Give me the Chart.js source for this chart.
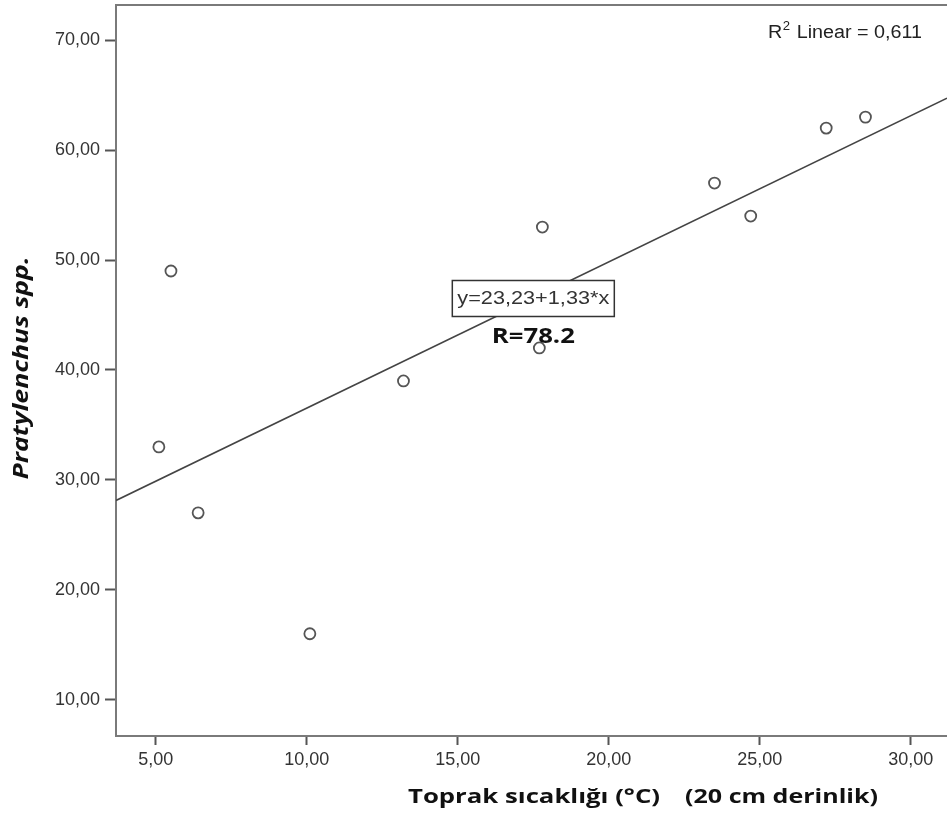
<!DOCTYPE html>
<html>
<head>
<meta charset="utf-8">
<script src="https://cdn.jsdelivr.net/npm/chart.js@4"></script>
<style>
  html, body { margin: 0; padding: 0; background: #fff; }
  #wrap { width: 947px; height: 821px; }
</style>
</head>
<body>
<div id="wrap"><canvas id="chart"></canvas></div>
<script>
// soil temperature (x) vs Pratylenchus count (y)
const tempValues = [5.1, 5.5, 6.4, 10.1, 13.2, 17.7, 17.8, 23.5, 24.7, 27.2, 28.5];
const countValues = [33, 49, 27, 16, 39, 42, 53, 57, 54, 62, 63];

const xTicks = [5, 10, 15, 20, 25, 30];
const yTicks = [10, 20, 30, 40, 50, 60, 70];
const xRange = [3.68, 31.2];
const yRange = [6.7, 73.2];

// fit from the label y=23,23+1,33*x
const intercept = 23.23;
const slope = 1.33;
const fitX = [xRange[0], xRange[1]];
const fitY = fitX.map(x => intercept + slope * x);

const fmt = v => v.toFixed(2).replace('.', ',');
const tickFont = { family: 'Arial, "Liberation Sans"', size: 18 };

// the original picture is stretched sideways, so text is squeezed to a width
function fitText(ctx, text, x, y, width, font, angle) {
  ctx.save();
  ctx.font = font;
  const sx = width / ctx.measureText(text).width;
  ctx.translate(x, y);
  if (angle) ctx.rotate(angle);
  ctx.scale(sx, 1);
  ctx.textAlign = 'center';
  ctx.textBaseline = 'middle';
  ctx.fillText(text, 0, 0);
  ctx.restore();
}

// frame + text notes
const notes = {
  id: 'notes',
  afterDraw(chart) {
    const ctx = chart.ctx;
    const a = chart.chartArea;
    const xs = chart.scales.x;
    const ys = chart.scales.y;
    ctx.save();

    // top border (the right side is cropped in the original)
    ctx.strokeStyle = '#7a7a7a';
    ctx.lineWidth = 2;
    ctx.beginPath();
    ctx.moveTo(a.left - 1, a.top);
    ctx.lineTo(a.right, a.top);
    ctx.stroke();

    // R2 note
    ctx.fillStyle = '#222';
    ctx.textBaseline = 'alphabetic';
    ctx.font = '18px Arial, "Liberation Sans"';
    const sup = 9;
    const rest = ' Linear = 0,611';
    const wR = ctx.measureText('R').width;
    const wRest = ctx.measureText(rest).width;
    const s = (922 - 768 - sup) / (wR + wRest);
    ctx.save();
    ctx.translate(768, 38);
    ctx.scale(s, 1);
    ctx.fillText('R', 0, 0);
    ctx.fillText(rest, wR + sup / s, 0);
    ctx.font = '12px Arial, "Liberation Sans"';
    ctx.fillText('2', wR + 0.5, -8);
    ctx.restore();

    // equation box
    const cx = xs.getPixelForValue(17.5);
    const cy = ys.getPixelForValue(46.5);
    ctx.fillStyle = '#fff';
    ctx.fillRect(cx - 81, cy - 18, 162, 36);
    ctx.strokeStyle = '#333';
    ctx.lineWidth = 1.5;
    ctx.strokeRect(cx - 81, cy - 18, 162, 36);
    ctx.fillStyle = '#333';
    fitText(ctx, 'y=23,23+1,33*x', cx, cy + 1, 152, '18px Arial, "Liberation Sans"');

    // R value
    ctx.fillStyle = '#111';
    fitText(ctx, 'R=78.2', cx, cy + 38, 83, 'bold 22px "Open Sans", sans-serif');

    // axis titles
    fitText(ctx, 'Toprak sıcaklığı (°C)', 534, 797, 252, 'bold 20px "Open Sans", sans-serif');
    fitText(ctx, '(20 cm derinlik)', 781.5, 797, 193, 'bold 20px "Open Sans", sans-serif');
    fitText(ctx, 'Pratylenchus spp.', 22, 368, 223, 'italic bold 21px "Open Sans", sans-serif', -Math.PI / 2);
    ctx.restore();
  }
};

new Chart(document.getElementById('chart'), {
  type: 'scatter',
  data: {
    datasets: [
      {
        label: 'Pratylenchus spp.',
        data: tempValues.map((t, i) => ({ x: t, y: countValues[i] })),
        pointStyle: 'circle',
        pointRadius: 5.5,
        pointBorderWidth: 1.8,
        pointBorderColor: '#555',
        pointBackgroundColor: '#fff',
        order: 1
      },
      {
        label: 'Linear fit',
        type: 'line',
        data: fitX.map((x, i) => ({ x: x, y: fitY[i] })),
        borderColor: '#444',
        borderWidth: 1.6,
        pointRadius: 0,
        fill: false,
        order: 2
      }
    ]
  },
  options: {
    responsive: true,
    maintainAspectRatio: false,
    animation: false,
    layout: { autoPadding: false, padding: { top: 5, right: 0, left: 0, bottom: 0 } },
    plugins: {
      legend: { display: false },
      tooltip: { enabled: false }
    },
    scales: {
      x: {
        type: 'linear',
        min: xRange[0],
        max: xRange[1],
        afterBuildTicks: scale => { scale.ticks = xTicks.map(v => ({ value: v })); },
        afterFit: scale => {
          scale.height = 85;
          scale.paddingLeft = 0;
          scale.paddingRight = 0;
        },
        ticks: {
          color: '#333',
          font: tickFont,
          padding: 4,
          maxRotation: 0,
          callback: v => fmt(v)
        },
        grid: {
          drawOnChartArea: false,
          drawTicks: true,
          tickLength: 9,
          tickWidth: 2,
          tickColor: '#555'
        },
        border: { color: '#7a7a7a', width: 2 }
      },
      y: {
        type: 'linear',
        min: yRange[0],
        max: yRange[1],
        afterBuildTicks: scale => { scale.ticks = yTicks.map(v => ({ value: v })); },
        afterFit: scale => {
          scale.width = 116;
          scale.paddingTop = 0;
          scale.paddingBottom = 0;
        },
        ticks: {
          color: '#333',
          font: tickFont,
          padding: 5,
          callback: v => fmt(v)
        },
        grid: {
          drawOnChartArea: false,
          drawTicks: true,
          tickLength: 11,
          tickWidth: 2,
          tickColor: '#555'
        },
        border: { color: '#7a7a7a', width: 2 },
        title: { display: false }
      }
    }
  },
  plugins: [notes]
});
</script>
</body>
</html>
